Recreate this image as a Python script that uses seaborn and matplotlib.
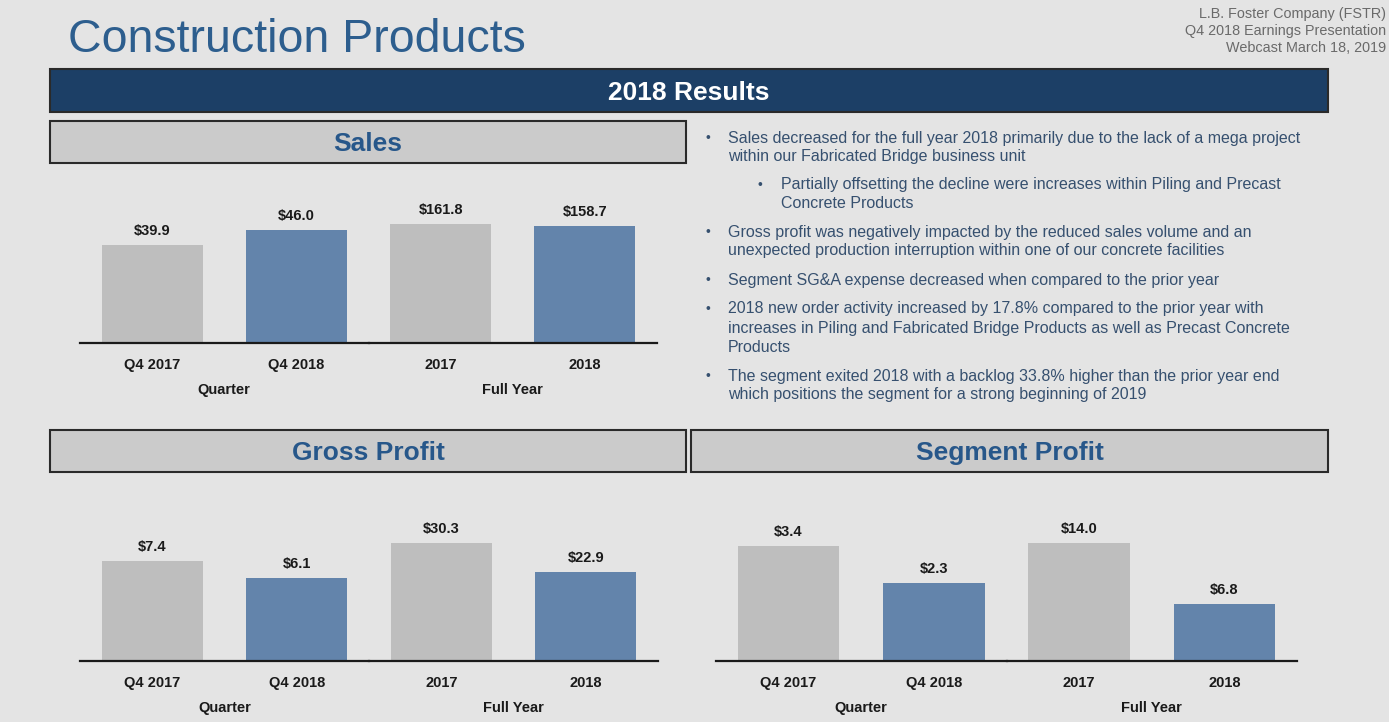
import matplotlib
matplotlib.use("Agg")
import matplotlib.pyplot as plt
import seaborn as sns
import pandas as pd
from matplotlib.patches import Rectangle

# ---------------- data ----------------
quarter_labels = ["Q4 2017", "Q4 2018"]
year_labels = ["2017", "2018"]
group_labels = ["Quarter", "Full Year"]

sales_quarter = [39.9, 46.0]
sales_year = [161.8, 158.7]
gross_quarter = [7.4, 6.1]
gross_year = [30.3, 22.9]
segment_quarter = [3.4, 2.3]
segment_year = [14.0, 6.8]

title = "Construction Products"
corner_lines = ["L.B. Foster Company (FSTR)", "Q4 2018 Earnings Presentation", "Webcast March 18, 2019"]
banner = "2018 Results"
panel_titles = ["Sales", "Gross Profit", "Segment Profit"]

bullet_lines = [
    (0, True, "Sales decreased for the full year 2018 primarily due to the lack of a mega project"),
    (0, False, "within our Fabricated Bridge business unit"),
    (1, True, "Partially offsetting the decline were increases within Piling and Precast"),
    (1, False, "Concrete Products"),
    (0, True, "Gross profit was negatively impacted by the reduced sales volume and an"),
    (0, False, "unexpected production interruption within one of our concrete facilities"),
    (0, True, "Segment SG&A expense decreased when compared to the prior year"),
    (0, True, "2018 new order activity increased by 17.8% compared to the prior year with"),
    (0, False, "increases in Piling and Fabricated Bridge Products as well as Precast Concrete"),
    (0, False, "Products"),
    (0, True, "The segment exited 2018 with a backlog 33.8% higher than the prior year end"),
    (0, False, "which positions the segment for a strong beginning of 2019"),
]
bullet_y = [137, 156, 184, 203, 231, 250, 279, 308, 327, 346, 375, 394]

# ---------------- style ----------------
W, H = 1389, 722
BG = "#e4e4e4"
GRAY = "#bebebe"
BLUE = "#6384ab"
NAVY = "#1c3f66"
HEAD_FILL = "#cbcbcb"
TITLE_BLUE = "#2d5e8e"
HEAD_TEXT = "#27578a"
BODY_TEXT = "#36506f"
DARK = "#1a1a1a"

sns.set_theme(style="white")
plt.rcParams['font.family'] = ['Liberation Sans', 'DejaVu Sans']

fig = plt.figure(figsize=(W / 100, H / 100), dpi=100, facecolor=BG)


def fx(x):
    return x / W


def fy(y):
    return 1 - y / H


def box(x0, y0, x1, y1, fill, text, color, size=19):
    fig.patches.append(Rectangle((fx(x0), fy(y1)), fx(x1) - fx(x0), fy(y0) - fy(y1),
                                 transform=fig.transFigure, facecolor=fill,
                                 edgecolor="#2a2a2a", linewidth=1.5, zorder=1))
    fig.text(fx((x0 + x1) / 2), fy((y0 + y1) / 2 + 2), text, ha="center", va="center",
             fontsize=size, fontweight="bold", color=color, zorder=2)


# Title and corner text
fig.text(fx(68), fy(40), title, fontsize=33.5, color=TITLE_BLUE, ha="left", va="center")
for i, line in enumerate(corner_lines):
    fig.text(fx(1386), fy(14 + 17 * i), line, fontsize=10.4, color="#6a6a6a",
             ha="right", va="center")

# Banner and panel headers
box(50, 69, 1328, 112, NAVY, banner, "white")
box(50, 121, 686, 163, HEAD_FILL, panel_titles[0], HEAD_TEXT)
box(50, 430, 686, 472, HEAD_FILL, panel_titles[1], HEAD_TEXT)
box(691, 430, 1328, 472, HEAD_FILL, panel_titles[2], HEAD_TEXT)

# Bullets
for (level, has_bullet, text), y in zip(bullet_lines, bullet_y):
    tx = 728 if level == 0 else 781
    bx = 705 if level == 0 else 758
    if has_bullet:
        fig.text(fx(bx), fy(y + 1), "•", fontsize=10, color=BODY_TEXT, ha="left", va="center")
    fig.text(fx(tx), fy(y + 1), text, fontsize=11.5, color=BODY_TEXT, ha="left", va="center")

AX_H = 150


def half_chart(left, right, base, cats, vals, ymax, glabel):
    ax = fig.add_axes([fx(left), fy(base), fx(right) - fx(left), AX_H / H])
    df = pd.DataFrame({"cat": cats, "val": vals})
    sns.barplot(data=df, x="cat", y="val", hue="cat", palette=[GRAY, BLUE],
                legend=False, width=0.7, saturation=1, linewidth=0, ax=ax)
    ax.set_xlim(-0.5, 1.5)
    ax.set_ylim(0, ymax)
    ax.patch.set_alpha(0)
    for s in ["left", "top", "right"]:
        ax.spines[s].set_visible(False)
    ax.spines["bottom"].set_color(DARK)
    ax.spines["bottom"].set_linewidth(1.6)
    ax.spines["bottom"].set_zorder(5)
    ax.set_yticks([])
    ax.set_ylabel("")
    ax.tick_params(axis="x", length=0, pad=10.5, labelsize=10.5, labelcolor=DARK)
    for t in ax.get_xticklabels():
        t.set_fontweight("bold")
    ax.set_xlabel(glabel, fontsize=10.5, fontweight="bold", color=DARK, labelpad=8)
    for c in ax.containers:
        ax.bar_label(c, labels=[f"${v:.1f}" for v in c.datavalues], padding=5,
                     fontsize=10.5, fontweight="bold", color=DARK)
    return ax


def chart(x0, x1, base, qv, yv, qmax, ymax):
    mid = (x0 + x1) / 2
    half_chart(x0, mid, base, quarter_labels, qv, qmax, group_labels[0])
    half_chart(mid, x1, base, year_labels, yv, ymax, group_labels[1])


chart(80, 657, 343, sales_quarter, sales_year, 61.1, 203.8)
chart(80, 658, 661, gross_quarter, gross_year, 11.07, 38.56)
chart(716, 1297, 661, segment_quarter, segment_year, 4.43, 17.75)

fig.savefig("out.png", dpi=100, facecolor=BG)
